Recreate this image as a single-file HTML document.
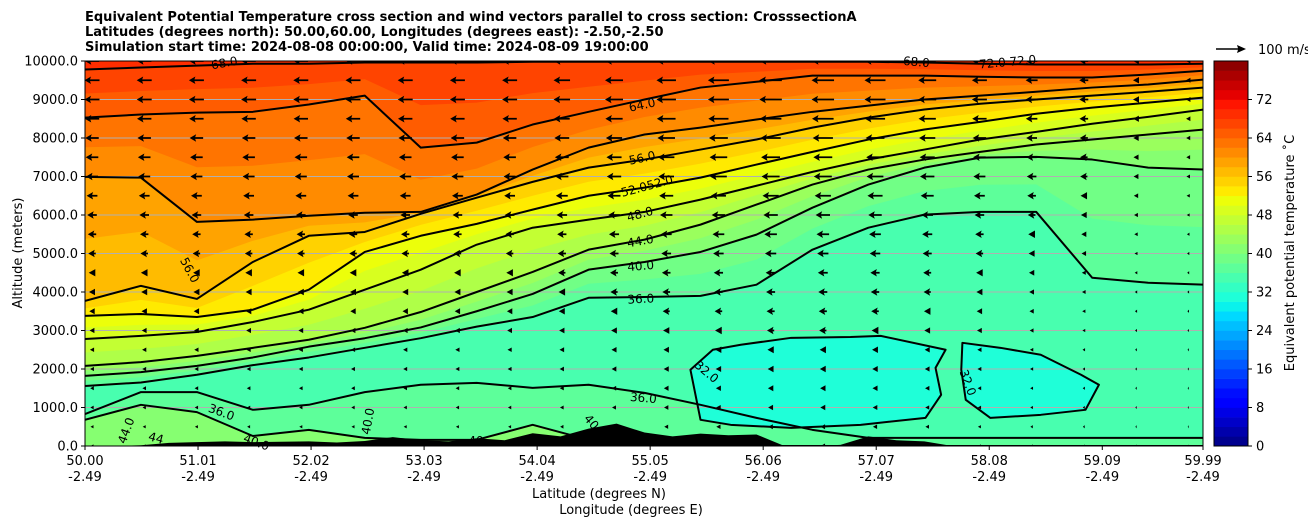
<!DOCTYPE html>
<html><head><meta charset="utf-8">
<style>
html,body{margin:0;padding:0;background:#fff;}
svg text{font-family:"DejaVu Sans","Liberation Sans",sans-serif;}
</style></head>
<body>
<svg id="chart" width="1308" height="526" viewBox="0 0 1308 526" xmlns="http://www.w3.org/2000/svg">
  <g font-size="13" font-weight="bold" fill="#000">
    <text x="85" y="21">Equivalent Potential Temperature cross section and wind vectors parallel to cross section: CrosssectionA</text>
    <text x="85" y="36">Latitudes (degrees north): 50.00,60.00, Longitudes (degrees east): -2.50,-2.50</text>
    <text x="85" y="51">Simulation start time: 2024-08-08 00:00:00, Valid time: 2024-08-09 19:00:00</text>
  </g>
  <defs><clipPath id="plotclip"><rect x="85" y="61" width="1118" height="385"/></clipPath></defs>
  <g id="fills" clip-path="url(#plotclip)"></g>
  <g id="grid"></g>
  <g id="lines" clip-path="url(#plotclip)" fill="none" stroke="#000" stroke-width="2" stroke-linejoin="round"></g>
  <g id="terrain" clip-path="url(#plotclip)"></g>
  <g id="arrows" clip-path="url(#plotclip)"></g>
  <g id="clabels" font-size="12" fill="#000"></g>
  <rect x="85" y="61" width="1118" height="385" fill="none" stroke="#000" stroke-width="1"/>
  <g id="axes" font-size="13" fill="#000"></g>
  <text x="599" y="498" font-size="13" text-anchor="middle">Latitude (degrees N)</text>
  <text x="631" y="514" font-size="13" text-anchor="middle">Longitude (degrees E)</text>
  <text transform="translate(22,253) rotate(-90)" font-size="13" text-anchor="middle">Altitude (meters)</text>
  <g id="cbar" font-size="13"></g>
  <text transform="translate(1294,253) rotate(-90)" font-size="13" text-anchor="middle">Equivalent potential temperature ˚C</text>
  <g>
    <polygon points="1216,48.3 1238,48.3 1237,45 1246,49 1237,53 1238,49.7 1216,49.7" fill="#000"/>
    <text x="1258" y="54" font-size="13">100 m/s</text>
  </g>
</svg>
<script>
// ---- data ----
const lats = [50,50.5,51,51.5,52,52.5,53,53.5,54,54.5,55,55.5,56,56.5,57,57.5,58,58.5,59,59.5,60];
const levels = [68,64,60,56,52,48,44,40,36];
const alt68 = [9780,9830,9880,9930,9930,9960,9960,9960,9980,9980,9980,9980,9980,9980,9980,9960,9930,9910,9910,9910,9930];
const alt64 = [8530,8610,8660,8680,8870,9100,7750,7880,8350,8680,9000,9310,9460,9620,9620,9620,9590,9570,9570,9650,9750];
const alt60 = [6990,6970,5820,5880,5980,6060,6080,6530,7180,7750,8090,8270,8480,8680,8840,9000,9100,9200,9310,9390,9520];
const alt56 = [3770,4160,3820,4780,5460,5560,6030,6450,6860,7230,7440,7700,7960,8270,8530,8740,8890,9000,9100,9200,9310];
const alt52 = [3380,3430,3350,3540,4060,5040,5460,5770,6140,6500,6710,6970,7310,7640,7960,8220,8420,8630,8790,8920,9050];
const alt48 = [2780,2860,2960,3220,3540,4060,4580,5230,5670,5880,6080,6400,6760,7120,7440,7700,7960,8160,8370,8550,8740];
const alt44 = [2080,2180,2340,2550,2760,3070,3480,4000,4520,5100,5360,5750,6270,6790,7180,7440,7640,7830,7960,8090,8220];
const alt40 = [1820,1920,2080,2300,2580,2800,3080,3500,3950,4580,4780,5040,5490,6190,6790,7230,7490,7510,7440,7230,7180];
const alt36 = [1560,1650,1850,2100,2300,2550,2800,3100,3350,3850,3870,3900,4190,5100,5670,6010,6080,6080,4370,4240,4190];
const altLow36 = [830,1400,1400,940,1070,1400,1590,1640,1510,1590,1380,1070,730,420,210,210,210,210,210,210,210];
const altLow40 = [680,1070,880,260,420,210,160,160,550,160,160,0,0,0,0,0,0,0,0,0,0];
const blob1Lat = [55.50,55.41,55.61,55.86,56.31,56.84,57.11,57.69,57.60,57.65,57.51,56.93,56.31,55.77];
const blob1Alt = [680,1980,2500,2630,2810,2830,2860,2500,2030,1330,730,550,470,550];
const blob2Lat = [57.84,58.18,58.54,58.90,59.06,58.94,58.54,58.09,57.87,57.83];
const blob2Alt = [2680,2550,2370,1850,1590,940,810,730,1200,1980];
const terrainAlt = [0,0,20,80,100,120,100,110,120,90,130,230,150,120,200,150,330,250,450,580,350,250,320,280,300,0,0,30,250,150,120,0,0,0,0,0,0,0,0,0,0];
const rowSpeed = [48,50,50,48,45,42,40,36,32,28,25,22,20,18,16,14,13,12,11,10,10];
const colFactor = [1,1,1,1,1,1,1,1,1,1.1,1.2,1.3,1.4,1.5,1.5,1.4,1.2,1.0,0.8,0.6,0.4,0.3];
const yTicks = [0,1000,2000,3000,4000,5000,6000,7000,8000,9000,10000];
const xTicks = [50.00,51.01,52.02,53.03,54.04,55.05,56.06,57.07,58.08,59.09,59.99];
const cbTicks = [0,8,16,24,32,40,48,56,64,72];

// ---- helpers ----
const NS="http://www.w3.org/2000/svg";
const X = lat => 85 + (lat-50)/(59.99-50)*1118;
const Y = alt => 446 - alt/10000*385;
function mk(tag, parent){const e=document.createElementNS(NS,tag);parent.appendChild(e);return e;}
function seg(pts,x){for(let i=1;i<pts.length;i++){if(x<=pts[i][0]){const[a,b]=[pts[i-1],pts[i]];return a[1]+(b[1]-a[1])*(x-a[0])/(b[0]-a[0]);}}return pts[pts.length-1][1];}
function jet(v){const x=Math.max(0,Math.min(1,v/80));
 const r=seg([[0,0],[0.35,0],[0.66,1],[0.89,1],[1,0.5]],x),g=seg([[0,0],[0.125,0],[0.375,1],[0.64,1],[0.91,0],[1,0]],x),b=seg([[0,0.5],[0.11,1],[0.34,1],[0.65,0],[1,0]],x);
 return `rgb(${Math.round(r*255)},${Math.round(g*255)},${Math.round(b*255)})`;}
function linePts(arr){return lats.map((l,i)=>[X(l),Y(arr[i])]);}
function belowPoly(arr){const p=linePts(arr);p.push([X(60)+2,447],[X(50)-2,447]);return p.map(q=>q.join(',')).join(' ');}

const fills=document.getElementById('fills');
const lineG=document.getElementById('lines');
const byLevel={68:alt68,64:alt64,60:alt60,56:alt56,52:alt52,48:alt48,44:alt44,40:alt40,36:alt36};

const bg=mk('rect',fills);bg.setAttribute('x',85);bg.setAttribute('y',61);bg.setAttribute('width',1118);bg.setAttribute('height',385);bg.setAttribute('fill',jet(69));



for(let lv=68; lv>=36; lv-=2){
  let arr;
  if(byLevel[lv]) arr=byLevel[lv];
  else {const up=byLevel[lv+2],dn=byLevel[lv-2];arr=up.map((v,i)=>(v+dn[i])/2);}
  const p=mk('polygon',fills);p.setAttribute('points',belowPoly(arr));p.setAttribute('fill',jet(lv-1));
  
  
}
const lowBand=mk('polygon',fills);lowBand.setAttribute('points',belowPoly(altLow36));lowBand.setAttribute('fill',jet(37));


const lowBand2=mk('polygon',fills);lowBand2.setAttribute('points',belowPoly(altLow40));lowBand2.setAttribute('fill',jet(41));


function blob(latA,altA,name){
  const pts=latA.map((l,i)=>X(l)+','+Y(altA[i])).join(' ');
  const f=mk('polygon',fills);f.setAttribute('points',pts);f.setAttribute('fill',jet(31));
  
  
  const s=mk('polygon',lineG);s.setAttribute('points',pts);
  
  
}
for(const lv of levels){
  const pl=mk('polyline',lineG);pl.setAttribute('points',linePts(byLevel[lv]).map(q=>q.join(',')).join(' '));
  
  
}
const l36=mk('polyline',lineG);l36.setAttribute('points',linePts(altLow36).map(q=>q.join(',')).join(' '));


const l40=mk('polyline',lineG);l40.setAttribute('points',linePts(altLow40).map(q=>q.join(',')).join(' '));


blob(blob1Lat,blob1Alt,'contour-32-blob-1');
blob(blob2Lat,blob2Alt,'contour-32-blob-2');

{const tg=document.getElementById('terrain');
 const pts=terrainAlt.map((a,i)=>X(50+i*0.25)+','+Y(a));pts.push(X(60)+','+447,X(50)+','+447);
 const t=mk('polygon',tg);t.setAttribute('points',pts.join(' '));t.setAttribute('fill','#000');
 
 }

const grid=document.getElementById('grid'),axes=document.getElementById('axes');
yTicks.forEach(v=>{
  const y=Y(v);
  const gl=mk('line',grid);gl.setAttribute('x1',85);gl.setAttribute('x2',1203);gl.setAttribute('y1',y);gl.setAttribute('y2',y);gl.setAttribute('stroke','#b0b0b0');gl.setAttribute('stroke-width',1);
  
  
  const tk=mk('line',axes);tk.setAttribute('x1',81);tk.setAttribute('x2',85);tk.setAttribute('y1',y);tk.setAttribute('y2',y);tk.setAttribute('stroke','#000');
  
  
  const tx=mk('text',axes);tx.setAttribute('x',78);tx.setAttribute('y',y+4.5);tx.setAttribute('text-anchor','end');tx.textContent=v.toFixed(1);
  
  
});
xTicks.forEach(v=>{
  const x=X(v);
  const tk=mk('line',axes);tk.setAttribute('x1',x);tk.setAttribute('x2',x);tk.setAttribute('y1',446);tk.setAttribute('y2',450);tk.setAttribute('stroke','#000');
  
  
  const t1=mk('text',axes);t1.setAttribute('x',x);t1.setAttribute('y',465);t1.setAttribute('text-anchor','middle');t1.textContent=v.toFixed(2);
  
  
  const t2=mk('text',axes);t2.setAttribute('x',x);t2.setAttribute('y',481);t2.setAttribute('text-anchor','middle');t2.textContent='-2.49';
  
  
});

const ag=document.getElementById('arrows');
rowSpeed.forEach((sp,j)=>{
  const y=61+j*19.25;
  colFactor.forEach((f,k)=>{
    const x=92+k*52.2;
    const L=sp*f*0.3;
    const hl=Math.min(L,6.5),hw=Math.min(3.8,Math.max(1.6,L*0.55)),sw=0.9;
    const tip=x-L/2,tail=x+L/2;
    let pts;
    if(L<=hl+0.5){pts=[[tip,y],[tail,y-hw],[tail,y+hw]];}
    else pts=[[tail,y-sw],[tip+hl*0.85,y-sw],[tip+hl,y-hw],[tip,y],[tip+hl,y+hw],[tip+hl*0.85,y+sw],[tail,y+sw]];
    const a=mk('polygon',ag);a.setAttribute('points',pts.map(q=>q.join(',')).join(' '));a.setAttribute('fill','#000');
    
    
  });
});

const clab=[["68.0",225,67,-10],["64.0",643,109,-12],["56.0",643,162,-12],["52.052.0",648,190,-15],["48.0",641,218,-15],["44.0",641,245,-10],["40.0",641,270,-5],["36.0",641,303,-3],["56.0",186,272,62],["72.0 72.0",1008,66,-5],["68.0",916,66,5],["32.0",704,375,40],["32.0",964,384,70],["36.0",220,416,20],["36.0",643,402,5],["40.0",372,422,-80],["40.0",592,429,50],["44.0",130,432,-70],["44",155,442,15],["40.0",255,446,20],["40",476,445,0]];
const cg=document.getElementById('clabels');
clab.forEach(c=>{const t=mk('text',cg);t.setAttribute('transform',`translate(${c[1]},${c[2]}) rotate(${c[3]})`);t.setAttribute('text-anchor','middle');t.textContent=c[0];
  
  });

const cb=document.getElementById('cbar');
for(let v=0;v<80;v+=2){
  const r=mk('rect',cb);const y0=446-(v+2)/80*385;r.setAttribute('x',1214);r.setAttribute('y',y0);r.setAttribute('width',34);r.setAttribute('height',385/40+0.3);r.setAttribute('fill',jet(v+1));
  
  
}
const cbf=mk('rect',cb);cbf.setAttribute('x',1214);cbf.setAttribute('y',61);cbf.setAttribute('width',34);cbf.setAttribute('height',385);cbf.setAttribute('fill','none');cbf.setAttribute('stroke','#000');


cbTicks.forEach(v=>{const y=446-v/80*385;
  const tk=mk('line',cb);tk.setAttribute('x1',1248);tk.setAttribute('x2',1252);tk.setAttribute('y1',y);tk.setAttribute('y2',y);tk.setAttribute('stroke','#000');
  
  
  const t=mk('text',cb);t.setAttribute('x',1256);t.setAttribute('y',y+4.5);t.textContent=v;
  
  
});
</script>
</body></html>
